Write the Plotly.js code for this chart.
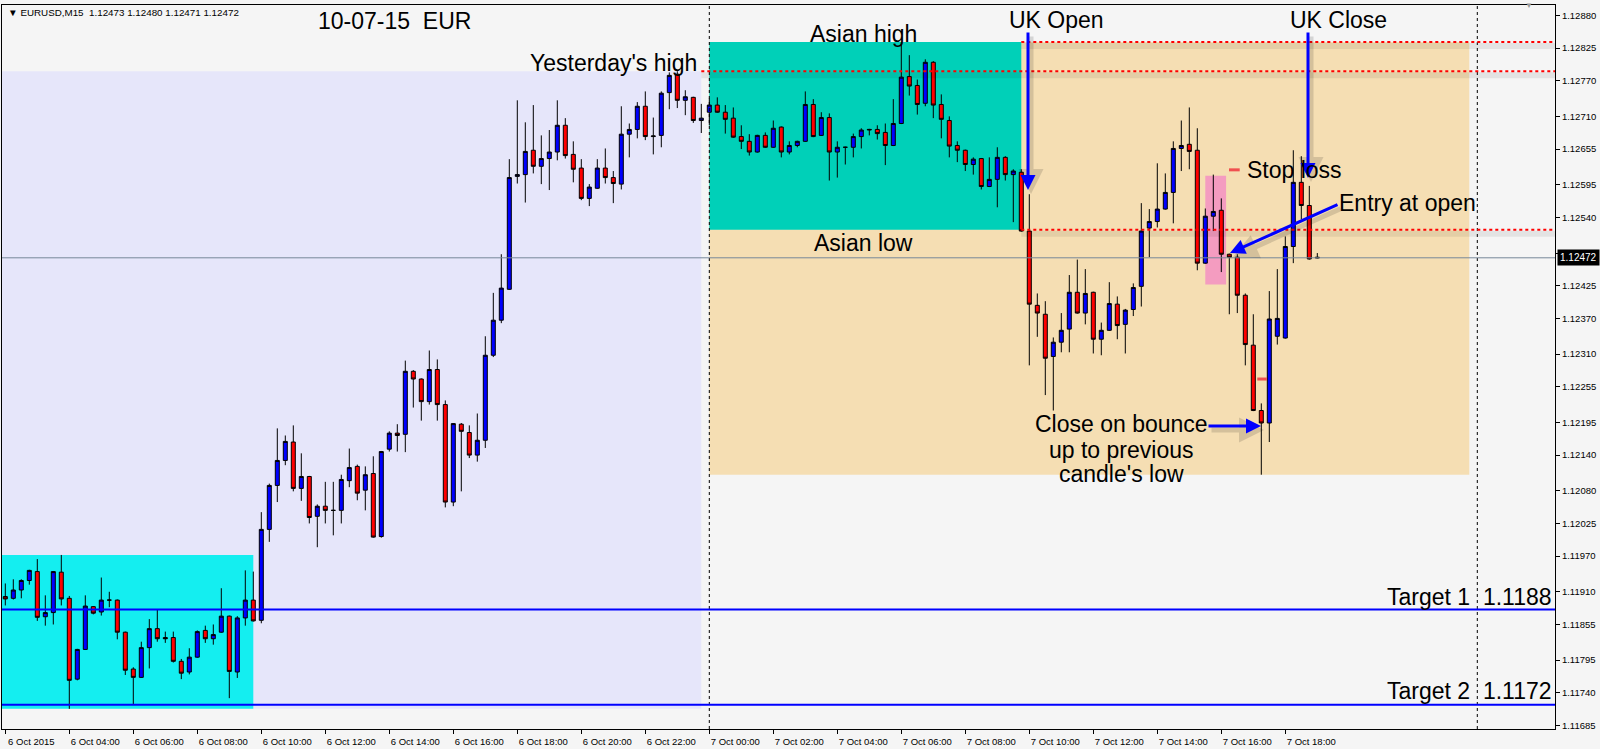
<!DOCTYPE html>
<html><head><meta charset="utf-8">
<script src="https://cdn.plot.ly/plotly-3.0.1.min.js"></script>
<style>html,body{margin:0;padding:0;background:#f5f5f5;overflow:hidden}#chart{width:1600px;height:749px}</style>
</head><body><div id="chart"></div>
<script>
// ---- data (EURUSD M15, first bar 6 Oct 2015 02:00) ----
const firstBar = Date.UTC(2015, 9, 6, 2, 0);
const barMs = 15 * 60 * 1000;

const openP = [1.11902,1.11899,1.11913,1.11929,1.11944,1.11868,1.11875,1.11943,1.11899,1.11763,
1.11813,1.11885,1.11876,1.11896,1.11896,1.11842,1.11780,1.11766,1.11816,1.11848,
1.11833,1.11833,1.11793,1.11775,1.11800,1.11845,1.11831,1.11842,1.11869,1.11775,
1.11866,1.11896,1.11862,1.12015,1.12089,1.12131,1.12162,1.12084,1.12104,1.12037,
1.12054,1.12047,1.12047,1.12097,1.12121,1.12081,1.12109,1.12003,1.12150,1.12177,
1.12175,1.12281,1.12268,1.12230,1.12284,1.12225,1.12061,1.12192,1.12178,1.12140,
1.12165,1.12308,1.12367,1.12419,1.12609,1.12612,1.12653,1.12626,1.12639,1.12650,
1.12695,1.12646,1.12623,1.12572,1.12589,1.12623,1.12607,1.12596,1.12680,1.12688,
1.12727,1.12676,1.12678,1.12750,1.12781,1.12737,1.12742,1.12703,1.12717,1.12729,
1.12717,1.12707,1.12676,1.12668,1.12650,1.12678,1.12658,1.12692,1.12650,1.12661,
1.12668,1.12730,1.12678,1.12708,1.12650,1.12658,1.12658,1.12676,1.12687,1.12688,
1.12683,1.12661,1.12698,1.12777,1.12762,1.12732,1.12801,1.12730,1.12703,1.12661,
1.12653,1.12629,1.12639,1.12592,1.12604,1.12641,1.12612,1.12616,1.12517,1.12392,
1.12377,1.12306,1.12330,1.12352,1.12414,1.12379,1.12414,1.12335,1.12350,1.12394,
1.12360,1.12385,1.12424,1.12522,1.12533,1.12554,1.12582,1.12656,1.12663,1.12653,
1.12463,1.12542,1.12552,1.12478,1.12473,1.12409,1.12325,1.12215,1.12194,1.12340,
1.12337,1.12491,1.12599,1.12560,1.12473];
const highP = [1.11924,1.11931,1.11931,1.11947,1.11965,1.11904,1.11945,1.11972,1.11903,1.11814,
1.11904,1.11886,1.11934,1.11910,1.11897,1.11843,1.11783,1.11826,1.11864,1.11881,
1.11843,1.11843,1.11797,1.11815,1.11845,1.11853,1.11855,1.11916,1.11870,1.11869,
1.11946,1.11944,1.12044,1.12092,1.12185,1.12173,1.12190,1.12143,1.12105,1.12057,
1.12095,1.12095,1.12107,1.12151,1.12124,1.12121,1.12138,1.12147,1.12180,1.12192,
1.12299,1.12283,1.12269,1.12316,1.12301,1.12232,1.12194,1.12194,1.12190,1.12210,
1.12340,1.12413,1.12478,1.12638,1.12737,1.12700,1.12729,1.12678,1.12687,1.12737,
1.12707,1.12668,1.12638,1.12596,1.12638,1.12656,1.12618,1.12727,1.12698,1.12734,
1.12752,1.12708,1.12752,1.12784,1.12786,1.12754,1.12743,1.12731,1.12740,1.12742,
1.12729,1.12725,1.12695,1.12680,1.12679,1.12683,1.12703,1.12693,1.12668,1.12669,
1.12752,1.12739,1.12717,1.12715,1.12668,1.12659,1.12681,1.12690,1.12689,1.12695,
1.12698,1.12739,1.12833,1.12813,1.12772,1.12806,1.12803,1.12747,1.12710,1.12668,
1.12654,1.12641,1.12640,1.12641,1.12658,1.12643,1.12621,1.12621,1.12579,1.12412,
1.12399,1.12338,1.12379,1.12443,1.12469,1.12453,1.12415,1.12363,1.12431,1.12407,
1.12386,1.12429,1.12564,1.12554,1.12631,1.12614,1.12668,1.12703,1.12725,1.12690,
1.12555,1.12612,1.12572,1.12479,1.12478,1.12412,1.12377,1.12227,1.12416,1.12453,
1.12508,1.12653,1.12643,1.12593,1.12480];
const lowP = [1.11887,1.11897,1.11899,1.11922,1.11861,1.11853,1.11855,1.11887,1.11713,1.11761,
1.11812,1.11872,1.11870,1.11884,1.11830,1.11770,1.11720,1.11765,1.11781,1.11826,
1.11824,1.11791,1.11763,1.11771,1.11799,1.11824,1.11821,1.11841,1.11731,1.11765,
1.11853,1.11860,1.11857,1.11994,1.12061,1.12123,1.12079,1.12063,1.12025,1.11985,
1.12025,1.12005,1.12025,1.12086,1.12064,1.12047,1.12001,1.12001,1.12146,1.12146,
1.12145,1.12220,1.12198,1.12225,1.12198,1.12052,1.12054,1.12079,1.12135,1.12129,
1.12152,1.12305,1.12362,1.12418,1.12597,1.12565,1.12614,1.12596,1.12586,1.12636,
1.12639,1.12599,1.12569,1.12559,1.12588,1.12597,1.12564,1.12587,1.12641,1.12673,
1.12670,1.12646,1.12658,1.12722,1.12724,1.12712,1.12699,1.12682,1.12695,1.12716,
1.12681,1.12674,1.12655,1.12644,1.12649,1.12657,1.12657,1.12641,1.12646,1.12658,
1.12667,1.12675,1.12677,1.12602,1.12607,1.12629,1.12641,1.12656,1.12678,1.12671,
1.12628,1.12660,1.12697,1.12745,1.12713,1.12727,1.12707,1.12673,1.12641,1.12633,
1.12618,1.12612,1.12587,1.12591,1.12557,1.12602,1.12532,1.12516,1.12291,1.12339,
1.12241,1.12215,1.12313,1.12313,1.12378,1.12360,1.12311,1.12308,1.12349,1.12335,
1.12311,1.12374,1.12390,1.12473,1.12523,1.12553,1.12530,1.12618,1.12621,1.12451,
1.12462,1.12517,1.12448,1.12377,1.12379,1.12291,1.12214,1.12107,1.12162,1.12326,
1.12336,1.12463,1.12537,1.12469,1.12471];
const closeP = [1.11898,1.11913,1.11929,1.11946,1.11867,1.11875,1.11944,1.11898,1.11761,1.11813,
1.11886,1.11874,1.11896,1.11896,1.11842,1.11778,1.11766,1.11816,1.11848,1.11831,
1.11831,1.11793,1.11773,1.11800,1.11843,1.11831,1.11838,1.11869,1.11776,1.11866,
1.11896,1.11861,1.12015,1.12089,1.12131,1.12163,1.12084,1.12104,1.12035,1.12054,
1.12047,1.12047,1.12099,1.12119,1.12076,1.12107,1.12002,1.12146,1.12177,1.12173,
1.12281,1.12268,1.12230,1.12284,1.12225,1.12061,1.12193,1.12180,1.12140,1.12165,
1.12308,1.12367,1.12421,1.12607,1.12612,1.12651,1.12626,1.12639,1.12650,1.12695,
1.12644,1.12621,1.12572,1.12591,1.12623,1.12607,1.12597,1.12680,1.12688,1.12727,
1.12676,1.12677,1.12749,1.12779,1.12737,1.12743,1.12703,1.12707,1.12729,1.12717,
1.12705,1.12675,1.12668,1.12650,1.12678,1.12658,1.12690,1.12650,1.12661,1.12668,
1.12730,1.12676,1.12708,1.12650,1.12658,1.12658,1.12676,1.12687,1.12688,1.12681,
1.12661,1.12698,1.12776,1.12761,1.12730,1.12801,1.12729,1.12705,1.12660,1.12653,
1.12629,1.12638,1.12592,1.12604,1.12641,1.12612,1.12618,1.12517,1.12394,1.12379,
1.12303,1.12330,1.12350,1.12414,1.12379,1.12412,1.12335,1.12350,1.12395,1.12358,
1.12384,1.12422,1.12517,1.12533,1.12554,1.12582,1.12656,1.12661,1.12651,1.12463,
1.12542,1.12550,1.12478,1.12473,1.12409,1.12326,1.12215,1.12194,1.12369,1.12370,
1.12491,1.12599,1.12560,1.12470,1.12472];

const xTickTimes = ['2015-10-06 02:00','2015-10-06 04:00','2015-10-06 06:00','2015-10-06 08:00',
'2015-10-06 10:00','2015-10-06 12:00','2015-10-06 14:00','2015-10-06 16:00','2015-10-06 18:00',
'2015-10-06 20:00','2015-10-06 22:00','2015-10-07 00:00','2015-10-07 02:00','2015-10-07 04:00',
'2015-10-07 06:00','2015-10-07 08:00','2015-10-07 10:00','2015-10-07 12:00','2015-10-07 14:00',
'2015-10-07 16:00','2015-10-07 18:00'];
const xTickLabels = ['6 Oct 2015','6 Oct 04:00','6 Oct 06:00','6 Oct 08:00','6 Oct 10:00','6 Oct 12:00',
'6 Oct 14:00','6 Oct 16:00','6 Oct 18:00','6 Oct 20:00','6 Oct 22:00','7 Oct 00:00','7 Oct 02:00',
'7 Oct 04:00','7 Oct 06:00','7 Oct 08:00','7 Oct 10:00','7 Oct 12:00','7 Oct 14:00','7 Oct 16:00','7 Oct 18:00'];
const yTickVals = [1.12880,1.12825,1.12770,1.12710,1.12655,1.12595,1.12540,1.12480,1.12425,1.12370,
1.12310,1.12255,1.12195,1.12140,1.12080,1.12025,1.11970,1.11910,1.11855,1.11795,1.11740,1.11685];
const yTickLabels = yTickVals.map(v => v.toFixed(5));

// levels
const yesterdayHigh = 1.12786, yesterdayLow = 1.11713;
const earlyHigh = 1.11972, earlyLow = 1.11713;
const asianHigh = 1.12835, asianLow = 1.12519, todayLow = 1.12107;
const target1 = 1.1188, target2 = 1.1172;
const lastPrice = 1.12472;
const stopLevel = 1.12620, halfLevel = 1.12268;
const pinkHigh = 1.12610, pinkLow = 1.12427;

// ---- helpers ----
function pad(v){return (v<10?'0':'')+v;}
function barTime(n){
  const d = new Date(firstBar + n*barMs);
  return d.getUTCFullYear()+'-'+pad(d.getUTCMonth()+1)+'-'+pad(d.getUTCDate())+' '+
    pad(d.getUTCHours())+':'+pad(d.getUTCMinutes())+':'+pad(d.getUTCSeconds())+'.'+String(d.getUTCMilliseconds()).padStart(3,'0');
}
const times = openP.map((_, i) => barTime(i));

const PL = 2, PT = 5, PW = 1553, PH = 724;
const fx = px => (px - PL) / PW;
const fy = py => (PT + PH - py) / PH;

const FONT = 'Liberation Sans, Arial, sans-serif';

const shapes = [];
function rect(x0, x1, y0, y1, color, layer){
  shapes.push({type:'rect', xref:'x', yref:'y', x0:barTime(x0), x1:barTime(x1), y0:y0, y1:y1,
    fillcolor:color, line:{width:0}, layer:layer||'below'});
}
const xEnd = 193.7125, xStart = -0.4125;
rect(xStart, 87, yesterdayLow, yesterdayHigh, '#E6E6FA');
rect(xStart, 31, earlyLow, earlyHigh, '#14EEF0');
rect(88, 183, todayLow, asianHigh, '#F5DEB3');
rect(88, 127, asianLow, asianHigh, '#00D0B8');
rect(150, 152.6, pinkLow, pinkHigh, '#F49CC0');

function hline(x0, x1, y, color, width, dash){
  shapes.push({type:'line', xref:'x', yref:'y', x0:barTime(x0), x1:barTime(x1), y0:y, y1:y,
    line:{color:color, width:width, dash:dash||'solid'}, layer:'above'});
}
function shadow(x0, x1, y){
  shapes.push({type:'line', xref:'x', yref:'y', ysizemode:'pixel', yanchor:y, x0:barTime(x0), x1:barTime(x1), y0:-4, y1:-4,
    line:{color:'rgba(0,0,0,0.07)', width:6}, layer:'above'});
}
// day separators
[88, 184].forEach(n => shapes.push({type:'line', xref:'x', yref:'paper', x0:barTime(n), x1:barTime(n), y0:0, y1:1,
  line:{color:'#000', width:1, dash:'3px,3px'}, layer:'above'}));
shadow(87, xEnd, yesterdayHigh);
shadow(127, xEnd, asianHigh);
shadow(127, xEnd, asianLow);
hline(xStart, xEnd, lastPrice, '#778899', 1);
hline(87, xEnd, yesterdayHigh, '#FF0000', 2, 'dot');
hline(127, xEnd, asianHigh, '#FF0000', 2, 'dot');
hline(127, xEnd, asianLow, '#FF0000', 2, 'dot');
hline(xStart, xEnd, target1, '#0000FF', 2);
hline(xStart, xEnd, target2, '#0000FF', 2);
hline(152.96, 154.3, stopLevel, '#F05050', 3);
hline(156.5, 157.7, halfLevel, '#F05050', 3);

const ann = [];
function txt(t, px, py, anchor, size){
  ann.push({xref:'paper', yref:'paper', x:fx(px), y:fy(py), xanchor:anchor||'left', yanchor:'middle',
    text:t, showarrow:false, font:{family:FONT, size:size||23, color:'#000'}});
}
function arrow(tipX, tipY, ax, ay){
  ann.push({xref:'paper', yref:'paper', x:fx(tipX), y:fy(tipY), ax:ax, ay:ay, text:'', showarrow:true,
    arrowhead:2, arrowsize:1, arrowwidth:5, arrowcolor:'rgba(0,0,0,0.13)', xshift:3, yshift:-4});
  ann.push({xref:'paper', yref:'paper', x:fx(tipX), y:fy(tipY), ax:ax, ay:ay, text:'', showarrow:true,
    arrowhead:2, arrowsize:1, arrowwidth:3, arrowcolor:'#0000FF'});
}
arrow(1028, 190, 0, -159);
arrow(1308, 178, 0, -147);
arrow(1230, 253, 109, -49);
arrow(1261, 426, -54, 0);

txt('10-07-15\u00a0\u00a0EUR', 316, 21);
txt("Yesterday's high", 528, 63);
txt('Asian high', 808, 34);
txt('UK Open', 1007, 20);
txt('UK Close', 1288, 20);
txt('Stop loss', 1245, 170);
txt('Entry at open', 1337, 203);
txt('Asian low', 812, 243);
txt('Close on bounce', 1121, 424, 'center');
txt('up to previous', 1121, 450, 'center');
txt("candle's low", 1121, 474, 'center');
txt('Target 1\u00a0\u00a01.1188', 1554, 597, 'right');
txt('Target 2\u00a0\u00a01.1172', 1554, 691, 'right');
txt('\u25BC EURUSD,M15\u00a0\u00a01.12473 1.12480 1.12471 1.12472', 6, 13, 'left', 9.8);
ann.push({xref:'paper', yref:'paper', x:fx(1535), y:fy(5), yanchor:'middle', text:'\u25BC', showarrow:false,
  font:{family:FONT, size:8, color:'#999'}});
// current price label
ann.push({xref:'paper', x:1, xanchor:'left', yref:'y', y:lastPrice, yanchor:'middle', text:'1.12472',
  showarrow:false, bgcolor:'#000', borderpad:2, xshift:2, font:{family:FONT, size:10, color:'#fff'}});

const trace = {
  type:'candlestick', x:times, open:openP, high:highP, low:lowP, close:closeP,
  increasing:{line:{color:'#000', width:1}, fillcolor:'#0000FF'},
  decreasing:{line:{color:'#000', width:1}, fillcolor:'#FF0000'},
  whiskerwidth:0, hoverinfo:'skip', showlegend:false
};

const layout = {
  width:1600, height:749,
  margin:{l:PL, r:1600-PL-PW, t:PT, b:749-PT-PH, pad:0},
  paper_bgcolor:'#F5F5F5', plot_bgcolor:'#F5F5F5',
  font:{family:FONT, size:9.5, color:'#000'},
  showlegend:false, boxgap:0.5, boxgroupgap:0,
  xaxis:{type:'date', range:[barTime(xStart), barTime(xEnd)], tickmode:'array', tickvals:xTickTimes, ticktext:xTickLabels,
    ticks:'outside', ticklen:4, tickcolor:'#000', tickfont:{family:FONT, size:9.5, color:'#000'}, ticklabelshift:26,
    showgrid:false, zeroline:false, showline:true, mirror:true, linecolor:'#000', linewidth:1,
    rangeslider:{visible:false}, fixedrange:true},
  yaxis:{range:[1.116791, 1.128974], side:'right', tickmode:'array', tickvals:yTickVals, ticktext:yTickLabels,
    ticks:'outside', ticklen:4, tickcolor:'#000', tickfont:{family:FONT, size:9.5, color:'#000'},
    showgrid:false, zeroline:false, showline:true, mirror:true, linecolor:'#000', linewidth:1, fixedrange:true},
  shapes:shapes, annotations:ann
};
Plotly.newPlot('chart', [trace], layout, {displayModeBar:false, staticPlot:true});
</script></body></html>
